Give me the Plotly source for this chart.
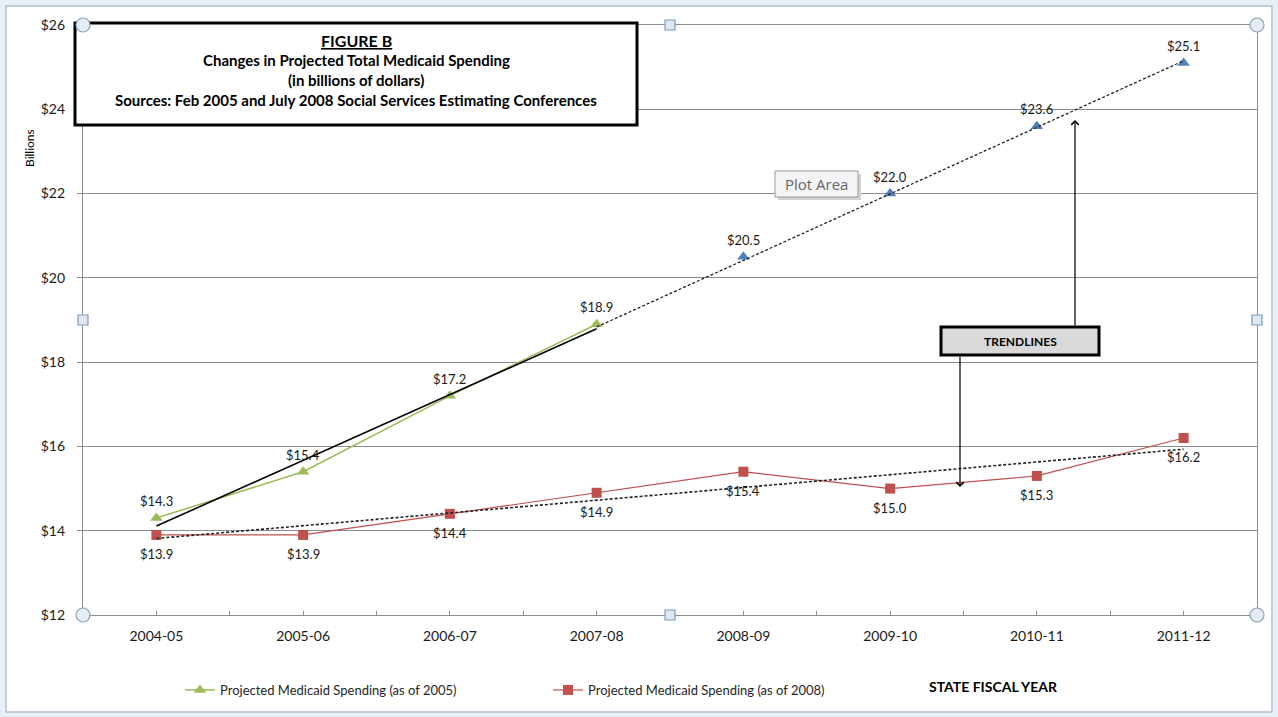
import numpy as np
import plotly.graph_objects as go

# ---- data ----
years = ["2004-05", "2005-06", "2006-07", "2007-08", "2008-09", "2009-10", "2010-11", "2011-12"]
proj_2005_actual = [14.3, 15.4, 17.2, 18.9]          # first four fiscal years
proj_2005_future = [20.5, 22.0, 23.6, 25.1]          # remaining four fiscal years
proj_2008 = [13.9, 13.9, 14.4, 14.9, 15.4, 15.0, 15.3, 16.2]
y_ticks = [12, 14, 16, 18, 20, 22, 24, 26]

idx = np.arange(len(years))
idx_a = idx[:4]
idx_f = idx[4:]

# linear trendlines
fit_a = np.polyfit(idx_a, proj_2005_actual, 1)
fit_f = np.polyfit(idx, proj_2005_actual + proj_2005_future, 1)
fit_r = np.polyfit(idx, proj_2008, 1)
tr_a_x = [idx_a[0], idx_a[-1]]
tr_f_x = [idx_a[-1], idx_f[-1]]
tr_r_x = [idx[0], idx[-1]]

FONT = "Lato, sans-serif"
GREEN, RED, BLUE = "#9bbb59", "#c0504d", "#4f81bd"
GRID = "#8c8c8c"
TXT = "#1a1a1a"

W, H = 1278, 717
L, R, T, B = 83, 1257, 25, 615


def px(x):
    return (x - L) / (R - L)


def py(y):
    return (B - y) / (B - T)


fig = go.Figure()

fig.add_trace(go.Scatter(
    x=idx_a, y=proj_2005_actual, mode="lines+markers",
    name="Projected Medicaid Spending (as of 2005)",
    line=dict(color=GREEN, width=1.5),
    marker=dict(symbol="triangle-up", size=11, color=GREEN),
))
fig.add_trace(go.Scatter(
    x=idx_f, y=proj_2005_future, mode="markers", showlegend=False,
    marker=dict(symbol="triangle-up", size=11, color=BLUE),
))
fig.add_trace(go.Scatter(
    x=idx, y=proj_2008, mode="lines+markers",
    name="Projected Medicaid Spending (as of 2008)",
    line=dict(color=RED, width=1.2),
    marker=dict(symbol="square", size=10, color=RED),
))

# trendlines
fig.add_trace(go.Scatter(
    x=tr_a_x, y=np.polyval(fit_a, tr_a_x), mode="lines", showlegend=False,
    line=dict(color="black", width=1.6), hoverinfo="skip",
))
fig.add_trace(go.Scatter(
    x=tr_f_x, y=np.polyval(fit_f, tr_f_x), mode="lines", showlegend=False,
    line=dict(color="#222", width=1.3, dash="3px,2px"), hoverinfo="skip",
))
fig.add_trace(go.Scatter(
    x=tr_r_x, y=np.polyval(fit_r, tr_r_x), mode="lines", showlegend=False,
    line=dict(color="#222", width=1.6, dash="3px,2px"), hoverinfo="skip",
))

shapes = []
# spreadsheet margin around the chart object
for x0, x1, y0, y1 in [(0, W, 0, 6), (0, W, 712, H), (0, 5, 0, H), (1273, W, 0, H)]:
    shapes.append(dict(type="rect", xref="paper", yref="paper", x0=px(x0), x1=px(x1), y0=py(y0), y1=py(y1),
                       line=dict(width=0), fillcolor="#e9eff6", layer="below"))
# outer chart frame
shapes.append(dict(type="rect", xref="paper", yref="paper", x0=px(6), x1=px(1272), y0=py(6), y1=py(712),
                   line=dict(color="#aebfd3", width=1.5), layer="below"))
# title box
shapes.append(dict(type="rect", xref="paper", yref="paper", x0=px(75), x1=px(637), y0=py(23), y1=py(125),
                   line=dict(color="black", width=3), fillcolor="white", layer="above"))
# "Plot Area" tooltip with shadow
shapes.append(dict(type="rect", xref="paper", yref="paper", x0=px(778), x1=px(861), y0=py(174), y1=py(200),
                   line=dict(width=0), fillcolor="#d2d2d2", layer="above"))
shapes.append(dict(type="rect", xref="paper", yref="paper", x0=px(775), x1=px(858), y0=py(171), y1=py(197),
                   line=dict(color="#9a9a9a", width=1), fillcolor="#f4f4f6", layer="above"))
# TRENDLINES box
shapes.append(dict(type="rect", xref="paper", yref="paper", x0=px(941), x1=px(1099), y0=py(327), y1=py(355),
                   line=dict(color="black", width=3), fillcolor="#d9d9d9", layer="above"))
# selection handles
for cx, cy in [(L, T), (R, T), (L, B), (R, B)]:
    shapes.append(dict(type="circle", xref="paper", yref="paper", x0=px(cx - 7), x1=px(cx + 7),
                       y0=py(cy - 7), y1=py(cy + 7), line=dict(color="#8aa0b6", width=1.2),
                       fillcolor="#e4ecf5", layer="above"))
for cx, cy in [(670, T), (L, 320), (R, 320), (670, B)]:
    shapes.append(dict(type="rect", xref="paper", yref="paper", x0=px(cx - 5), x1=px(cx + 5),
                       y0=py(cy - 5), y1=py(cy + 5), line=dict(color="#7f9ab5", width=1.2),
                       fillcolor="#dde8f4", layer="above"))


def ptext(x, y, text, size, color="black", family=FONT, **kw):
    return dict(x=px(x), y=py(y), xref="paper", yref="paper", showarrow=False,
                xanchor="center", yanchor="middle", text=text,
                font=dict(family=family, size=size, color=color), **kw)


annotations = [
    ptext(356, 40, "<b><u>FIGURE B</u></b>", 16),
    ptext(356, 60, "<b>Changes in Projected Total Medicaid Spending</b>", 15),
    ptext(356, 80, "<b>(in billions of dollars)</b>", 15),
    ptext(356, 100, "<b>Sources: Feb 2005 and July 2008 Social Services Estimating Conferences</b>", 15),
    ptext(816, 184, "Plot Area", 15, "#666", family="Open Sans, sans-serif"),
    ptext(1020, 341, "<b>TRENDLINES</b>", 12),
    ptext(993, 686, "<b>STATE FISCAL YEAR</b>", 14),
    ptext(29, 148, "Billions", 12, textangle=-90),
    # arrows from the TRENDLINES box
    dict(x=px(1075), y=py(120), xref="paper", yref="paper", ax=0, ay=207, text="",
         showarrow=True, arrowhead=4, arrowsize=1.2, arrowwidth=1.2, arrowcolor="black"),
    dict(x=px(960), y=py(487), xref="paper", yref="paper", ax=0, ay=-132, text="",
         showarrow=True, arrowhead=4, arrowsize=1.2, arrowwidth=1.2, arrowcolor="black"),
]

# value labels: 2005 projection above the markers, 2008 projection below
for xs, vals, shift in [(idx_a, proj_2005_actual, 17), (idx_f, proj_2005_future, 17), (idx, proj_2008, -19)]:
    for xv, v in zip(xs, vals):
        annotations.append(dict(x=int(xv), y=v, xref="x", yref="y", showarrow=False, yshift=shift,
                                text=f"${v:.1f}", font=dict(family=FONT, size=13, color=TXT)))

fig.update_layout(
    width=W, height=H, autosize=False,
    margin=dict(l=L, r=W - R, t=T, b=H - B),
    paper_bgcolor="white", plot_bgcolor="white",
    font=dict(family=FONT, size=13, color=TXT),
    shapes=shapes, annotations=annotations,
    legend=dict(orientation="h", x=px(180), y=py(675), xanchor="left", yanchor="top",
                entrywidth=323, entrywidthmode="pixels",
                font=dict(family=FONT, size=13, color="#262626"), bgcolor="rgba(0,0,0,0)"),
    xaxis=dict(range=[-0.5, 7.5], tickvals=list(idx), ticktext=years,
               showgrid=False, zeroline=False, showline=True, linecolor=GRID, linewidth=1.3,
               mirror=True, ticks="inside", ticklen=4, tickcolor=GRID, ticklabelstandoff=8,
               minor=dict(tick0=-0.5, dtick=1, ticks="inside", ticklen=4, tickcolor=GRID),
               tickfont=dict(family=FONT, size=14, color=TXT)),
    yaxis=dict(range=[12, 26], tickvals=y_ticks, ticktext=[f"${v}" for v in y_ticks],
               showgrid=True, gridcolor=GRID, gridwidth=1, zeroline=False,
               showline=True, linecolor=GRID, linewidth=1.3, mirror=True,
               ticks="outside", ticklen=5, tickcolor=GRID, ticklabelstandoff=9,
               tickfont=dict(family=FONT, size=14, color=TXT)),
)

fig.write_html("out.html")
